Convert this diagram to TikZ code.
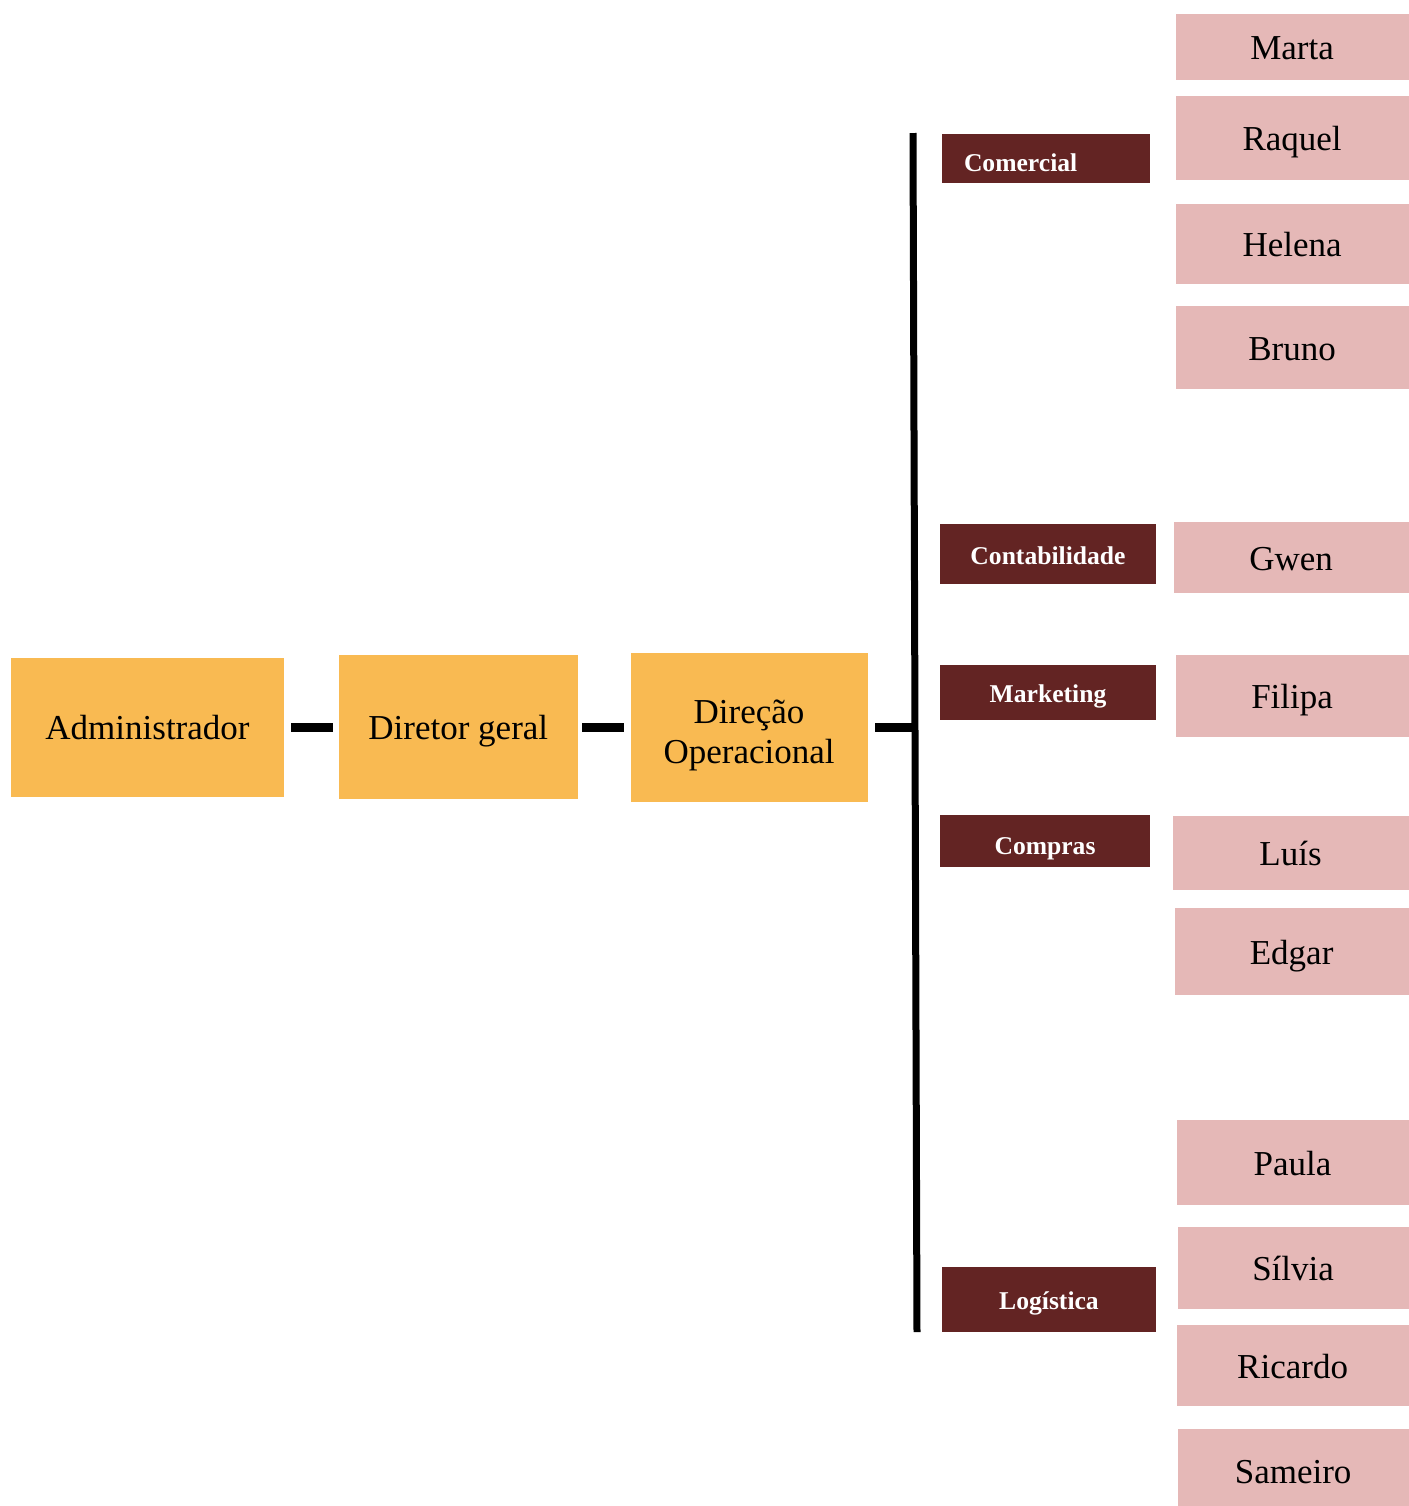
\documentclass[tikz,border=0pt]{standalone}
\usepackage{fontspec}
\setmainfont{Liberation Serif}
\usepackage{tikz}
\usetikzlibrary{positioning}
\definecolor{myorange}{RGB}{249,186,82}
\definecolor{mymaroon}{RGB}{99,36,35}
\definecolor{mypink}{RGB}{229,184,183}
\tikzset{
  chief/.style={rectangle, fill=myorange, align=center, inner sep=0pt,
    text height=12.5pt, text depth=0pt, font=\fontsize{17.5}{20}\selectfont},
  dept/.style={rectangle, fill=mymaroon, text=white, inner sep=0pt,
    text height=10pt, text depth=0pt, font=\fontsize{12.8}{15}\selectfont\bfseries},
  person/.style={rectangle, fill=mypink, inner sep=0pt, anchor=east,
    text height=12.5pt, text depth=0pt,
    minimum width=116.5pt, font=\fontsize{17.5}{20}\selectfont},
  link/.style={line width=4.5pt, color=black},
  bus/.style={line width=3.5pt, color=black}
}
\begin{document}
\begin{tikzpicture}[x=0.5pt, y=-0.5pt]
  \useasboundingbox (0,0) rectangle (1409,1506);
  % direction chain
  \node[chief, minimum width=136.5pt, minimum height=69.5pt] (admin) at (147.5,727) {Administrador};
  \node[chief, minimum width=119.5pt, minimum height=72pt, right=27pt of admin] (dg) {Diretor geral};
  \node[chief, minimum width=118.5pt, minimum height=74.5pt, right=26pt of dg,
    text height=36.5pt] (dop) {Direção\\Operacional};

  \coordinate (bustop) at (913,133);
  \coordinate (busbot) at (917,1332);
  \draw[bus] (bustop) -- (busbot);
  \draw[link, shorten <=3.5pt, shorten >=2.5pt] (admin) -- (dg);
  \draw[link, shorten <=2pt, shorten >=3pt] (dg) -- (dop);
  \draw[link, shorten <=3.5pt] (dop.east) -- (dop.east -| bustop);

  % departments
  \node[dept, minimum width=104pt, minimum height=24.5pt, text width=82pt, inner xsep=11pt,
    align=left, text height=13pt] (com) at (1046,158.5) {Comercial};
  \node[dept, minimum width=108pt, minimum height=30pt] (con) at (1048,554) {Contabilidade};
  \node[dept, minimum width=108pt, minimum height=27.5pt] (mkt) at (1048,692.5) {Marketing};
  \node[dept, minimum width=105pt, minimum height=26pt, text height=13pt] (cmp) at (1045,841) {Compras};
  \node[dept, minimum width=107pt, minimum height=32.5pt] (log) at (1049,1299.5) {Logística};

  % people
  \node[person, minimum height=33pt]   (marta)   at (1409,47)     {Marta};
  \node[person, minimum height=42pt]   (raquel)  at (1409,138)    {Raquel};
  \node[person, minimum height=40pt]   (helena)  at (1409,244)    {Helena};
  \node[person, minimum height=41.5pt] (bruno)   at (1409,347.5)  {Bruno};
  \node[person, minimum height=35.5pt, minimum width=117.5pt] (gwen) at (1409,557.5) {Gwen};
  \node[person, minimum height=41pt]   (filipa)  at (1409,696)    {Filipa};
  \node[person, minimum height=37pt, minimum width=118pt] (luis) at (1409,853) {Luís};
  \node[person, minimum height=43.5pt, minimum width=117pt] (edgar) at (1409,951.5) {Edgar};
  \node[person, minimum height=42.5pt, minimum width=116pt] (paula) at (1409,1162.5) {Paula};
  \node[person, minimum height=41pt, minimum width=115.5pt] (silvia) at (1409,1268) {Sílvia};
  \node[person, minimum height=40.5pt, minimum width=116pt] (ricardo) at (1409,1365.5) {Ricardo};
  \node[person, minimum height=38.5pt, minimum width=115.5pt, text height=15.5pt] (sameiro) at (1409,1467.5) {Sameiro};
\end{tikzpicture}
\end{document}
